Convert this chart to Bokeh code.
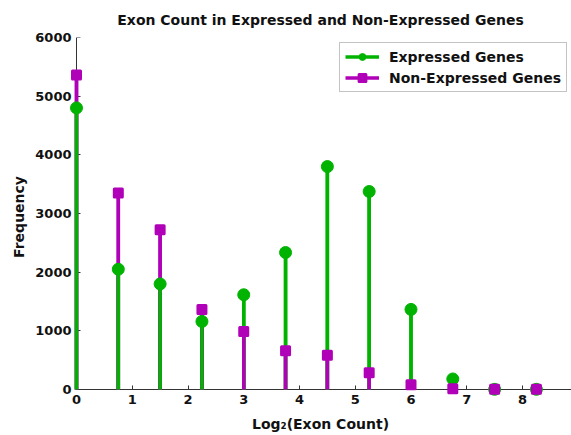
from bokeh.plotting import figure
from bokeh.models import (Legend, LegendItem, FixedTicker, ColumnDataSource, Range1d,
                          LinearAxis)
from bokeh.embed import file_html
from bokeh.resources import INLINE

# ---- data ----
log2_exon = [0, 0.75, 1.5, 2.25, 3, 3.75, 4.5, 5.25, 6, 6.75, 7.5, 8.25]
expressed = [4800, 2050, 1800, 1160, 1615, 2335, 3800, 3375, 1365, 180, 3, 3]
non_expressed = [5360, 3350, 2725, 1365, 990, 660, 585, 285, 80, 15, 5, 5]
x_ticks = [0, 1, 2, 3, 4, 5, 6, 7, 8]
y_ticks = [0, 1000, 2000, 3000, 4000, 5000, 6000]

GREEN = "#00b300"
MAGENTA = "#b000b8"
AXIS_COLOR = "#333333"
FONT = "DejaVu Sans"
FS = "13px"
FS_BIG = "14px"

X_END = 8.879
Y_END = 6000

p = figure(width=571, height=435, output_backend="svg", toolbar_location=None,
           x_range=Range1d(-0.1256, X_END), y_range=Range1d(-119, Y_END),
           min_border_left=69, min_border_top=37, min_border_bottom=39, min_border_right=0,
           title="Exon Count in Expressed and Non-Expressed Genes")
p.outline_line_color = None
p.grid.visible = False
p.background_fill_color = "white"
p.border_fill_color = "white"

p.title.align = "center"
p.title.text_font = FONT
p.title.text_font_size = FS_BIG
p.title.text_font_style = "bold"
p.title.text_color = "#111111"
p.title.standoff = 19

# full stems per series (also used as legend lines)
zeros = [0] * len(log2_exon)
g_stem = p.segment(x0=log2_exon, y0=zeros, x1=log2_exon, y1=expressed,
                   line_color=GREEN, line_width=3.5)
m_stem = p.segment(x0=log2_exon, y0=zeros, x1=log2_exon, y1=non_expressed,
                   line_color=MAGENTA, line_width=3.5)

# overlay: taller stem first, shorter on top
sx, sy, sc = [], [], []
for x, e, n in zip(log2_exon, expressed, non_expressed):
    pair = [(e, GREEN), (n, MAGENTA)]
    pair.sort(key=lambda t: -t[0])
    for v, c in pair:
        sx.append(x); sy.append(v); sc.append(c)
seg_src = ColumnDataSource(dict(x0=sx, y0=[0] * len(sx), x1=sx, y1=sy, c=sc))
p.segment(x0="x0", y0="y0", x1="x1", y1="y1", line_color="c", line_width=3.5, source=seg_src)

g_pts = p.scatter(log2_exon, expressed, marker="circle", size=12,
                  fill_color=GREEN, line_color=GREEN)
m_pts = p.scatter(log2_exon, non_expressed, marker="square", size=8,
                  fill_color=MAGENTA, line_color=MAGENTA, line_width=3, line_join="round")

# outer axes: labels only
for ax in (p.xaxis[0], p.yaxis[0]):
    ax.axis_line_color = None
    ax.major_tick_line_color = None
    ax.minor_tick_line_color = None
    ax.major_tick_in = 0
    ax.major_tick_out = 0
    ax.minor_tick_in = 0
    ax.minor_tick_out = 0
    ax.major_label_text_font = FONT
    ax.major_label_text_font_style = "bold"
    ax.major_label_text_font_size = FS
    ax.major_label_text_color = "#111111"
    ax.axis_label_text_font = FONT
    ax.axis_label_text_font_style = "bold"
    ax.axis_label_text_font_size = FS_BIG
    ax.axis_label_text_color = "#111111"
p.xaxis[0].ticker = FixedTicker(ticks=x_ticks)
p.yaxis[0].ticker = FixedTicker(ticks=y_ticks)
p.xaxis[0].axis_label = "Log₂(Exon Count)"
p.yaxis[0].axis_label = "Frequency"
p.xaxis[0].major_label_standoff = -2
p.yaxis[0].major_label_standoff = -2
p.xaxis[0].axis_label_standoff = 9
p.yaxis[0].axis_label_standoff = 5

# inner axes: line and inward ticks at the zero positions
x_line_axis = LinearAxis(ticker=FixedTicker(ticks=x_ticks), fixed_location=0,
                         bounds=(0, X_END))
y_line_axis = LinearAxis(ticker=FixedTicker(ticks=y_ticks), fixed_location=0,
                         bounds=(0, Y_END))
for ax in (x_line_axis, y_line_axis):
    ax.axis_line_color = AXIS_COLOR
    ax.axis_line_width = 1
    ax.major_tick_line_color = AXIS_COLOR
    ax.major_tick_in = 4
    ax.major_tick_out = 0
    ax.minor_tick_line_color = None
    ax.major_label_text_alpha = 0
    ax.major_label_text_font_size = "1px"
    ax.level = "underlay"
p.add_layout(x_line_axis, "below")
p.add_layout(y_line_axis, "left")

legend = Legend(items=[
    LegendItem(label="Expressed Genes", renderers=[g_stem, g_pts]),
    LegendItem(label="Non-Expressed Genes", renderers=[m_stem, m_pts]),
], location=(270, 304))
legend.border_line_color = "#888888"
legend.border_line_width = 1
legend.background_fill_alpha = 1
legend.padding = 5
legend.margin = 0
legend.spacing = 4
legend.glyph_width = 34
legend.glyph_height = 17
legend.label_height = 17
legend.label_standoff = 10
legend.label_text_font = FONT
legend.label_text_font_style = "bold"
legend.label_text_font_size = FS_BIG
legend.label_text_color = "#111111"
p.add_layout(legend, "center")

open("out.html", "w").write(file_html(p, INLINE))
